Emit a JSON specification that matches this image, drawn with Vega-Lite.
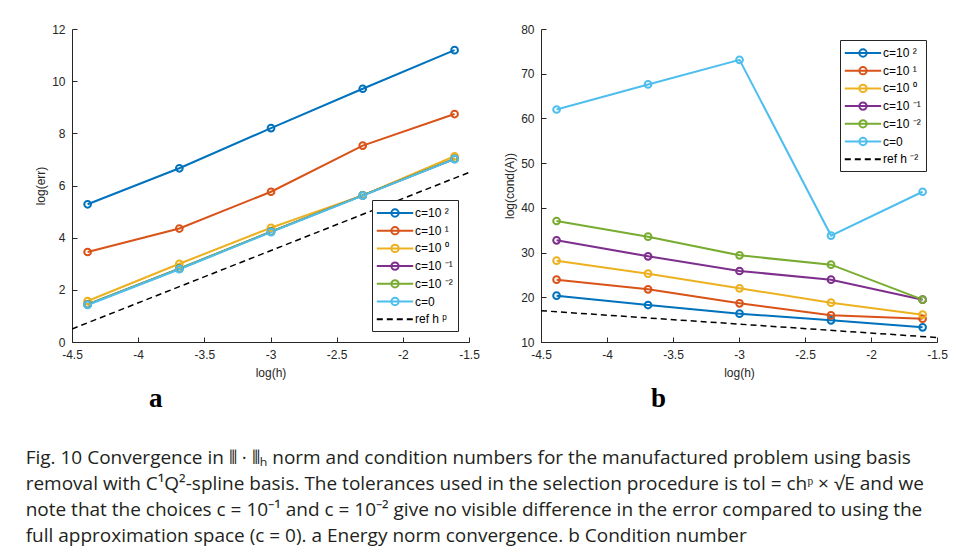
{
  "$schema": "https://vega.github.io/schema/vega-lite/v6.json",
  "padding": {"left": 25, "top": 23, "right": 5, "bottom": 5},
  "background": "white",
  "datasets": {
    "err": [
      {"logh": -4.382, "v": 5.28, "c": "c=10 ²"}, {"logh": -3.689, "v": 6.66, "c": "c=10 ²"}, {"logh": -2.996, "v": 8.20, "c": "c=10 ²"}, {"logh": -2.303, "v": 9.71, "c": "c=10 ²"}, {"logh": -1.609, "v": 11.19, "c": "c=10 ²"},
      {"logh": -4.382, "v": 3.45, "c": "c=10 ¹"}, {"logh": -3.689, "v": 4.35, "c": "c=10 ¹"}, {"logh": -2.996, "v": 5.76, "c": "c=10 ¹"}, {"logh": -2.303, "v": 7.53, "c": "c=10 ¹"}, {"logh": -1.609, "v": 8.74, "c": "c=10 ¹"},
      {"logh": -4.382, "v": 1.57, "c": "c=10 ⁰"}, {"logh": -3.689, "v": 3.00, "c": "c=10 ⁰"}, {"logh": -2.996, "v": 4.38, "c": "c=10 ⁰"}, {"logh": -2.303, "v": 5.62, "c": "c=10 ⁰"}, {"logh": -1.609, "v": 7.12, "c": "c=10 ⁰"},
      {"logh": -4.382, "v": 1.44, "c": "c=10 ⁻¹"}, {"logh": -3.689, "v": 2.81, "c": "c=10 ⁻¹"}, {"logh": -2.996, "v": 4.23, "c": "c=10 ⁻¹"}, {"logh": -2.303, "v": 5.62, "c": "c=10 ⁻¹"}, {"logh": -1.609, "v": 7.02, "c": "c=10 ⁻¹"},
      {"logh": -4.382, "v": 1.44, "c": "c=10 ⁻²"}, {"logh": -3.689, "v": 2.81, "c": "c=10 ⁻²"}, {"logh": -2.996, "v": 4.23, "c": "c=10 ⁻²"}, {"logh": -2.303, "v": 5.62, "c": "c=10 ⁻²"}, {"logh": -1.609, "v": 7.02, "c": "c=10 ⁻²"},
      {"logh": -4.382, "v": 1.42, "c": "c=0"}, {"logh": -3.689, "v": 2.79, "c": "c=0"}, {"logh": -2.996, "v": 4.21, "c": "c=0"}, {"logh": -2.303, "v": 5.61, "c": "c=0"}, {"logh": -1.609, "v": 7.01, "c": "c=0"}
    ],
    "refA": [
      {"logh": -4.5, "v": 0.5, "c": "ref h ᵖ"}, {"logh": -1.5, "v": 6.5, "c": "ref h ᵖ"}
    ],
    "cond": [
      {"logh": -4.382, "v": 20.36, "c": "c=10 ²"}, {"logh": -3.689, "v": 18.27, "c": "c=10 ²"}, {"logh": -2.996, "v": 16.34, "c": "c=10 ²"}, {"logh": -2.303, "v": 14.85, "c": "c=10 ²"}, {"logh": -1.609, "v": 13.28, "c": "c=10 ²"},
      {"logh": -4.382, "v": 23.94, "c": "c=10 ¹"}, {"logh": -3.689, "v": 21.78, "c": "c=10 ¹"}, {"logh": -2.996, "v": 18.65, "c": "c=10 ¹"}, {"logh": -2.303, "v": 15.96, "c": "c=10 ¹"}, {"logh": -1.609, "v": 15.2, "c": "c=10 ¹"},
      {"logh": -4.382, "v": 28.19, "c": "c=10 ⁰"}, {"logh": -3.689, "v": 25.28, "c": "c=10 ⁰"}, {"logh": -2.996, "v": 22.0, "c": "c=10 ⁰"}, {"logh": -2.303, "v": 18.80, "c": "c=10 ⁰"}, {"logh": -1.609, "v": 16.11, "c": "c=10 ⁰"},
      {"logh": -4.382, "v": 32.74, "c": "c=10 ⁻¹"}, {"logh": -3.689, "v": 29.16, "c": "c=10 ⁻¹"}, {"logh": -2.996, "v": 25.88, "c": "c=10 ⁻¹"}, {"logh": -2.303, "v": 23.94, "c": "c=10 ⁻¹"}, {"logh": -1.609, "v": 19.47, "c": "c=10 ⁻¹"},
      {"logh": -4.382, "v": 37.06, "c": "c=10 ⁻²"}, {"logh": -3.689, "v": 33.56, "c": "c=10 ⁻²"}, {"logh": -2.996, "v": 29.38, "c": "c=10 ⁻²"}, {"logh": -2.303, "v": 27.30, "c": "c=10 ⁻²"}, {"logh": -1.609, "v": 19.47, "c": "c=10 ⁻²"},
      {"logh": -4.382, "v": 62.0, "c": "c=0"}, {"logh": -3.689, "v": 67.6, "c": "c=0"}, {"logh": -2.996, "v": 73.1, "c": "c=0"}, {"logh": -2.303, "v": 33.8, "c": "c=0"}, {"logh": -1.609, "v": 43.6, "c": "c=0"}
    ],
    "refB": [
      {"logh": -4.5, "v": 17.0, "c": "ref h ⁻²"}, {"logh": -1.5, "v": 11.0, "c": "ref h ⁻²"}
    ]
  },
  "title": {
    "text": [
      "Fig. 10   Convergence in ⦀ · ⦀ₕ norm and condition numbers for the manufactured problem using basis",
      "removal with C¹Q²-spline basis. The tolerances used in the selection procedure is tol = chᵖ × √E and we",
      "note that the choices c = 10⁻¹ and c = 10⁻² give no visible difference in the error compared to using the",
      "full approximation space (c = 0). a Energy norm convergence. b Condition number"
    ],
    "orient": "bottom",
    "anchor": "start",
    "frame": "bounds",
    "font": "Open Sans",
    "fontSize": 19,
    "fontWeight": "normal",
    "lineHeight": 26,
    "color": "#231f20",
    "offset": 37,
    "dx": -9
  },
  "spacing": 23,
  "resolve": {"scale": {"color": "independent"}, "legend": {"color": "independent"}},
  "hconcat": [
    {
      "width": 397,
      "height": 313,
      "title": {"text": "a", "orient": "bottom", "anchor": "start", "frame": "group", "dx": 77, "offset": 8, "font": "Liberation Serif", "fontSize": 27, "fontWeight": "bold", "color": "#000"},
      "encoding": {
        "x": {"field": "logh", "type": "quantitative", "scale": {"domain": [-4.5, -1.5], "nice": false, "zero": false}, "title": "log(h)",
              "axis": {"values": [-4.5, -4, -3.5, -3, -2.5, -2, -1.5], "labelExpr": "datum.value + ''", "labelFlush": false, "titlePadding": 7}},
        "y": {"field": "v", "type": "quantitative", "scale": {"domain": [0, 12], "nice": false, "zero": false}, "title": "log(err)",
              "axis": {"values": [0, 2, 4, 6, 8, 10, 12], "labelExpr": "datum.value + ''"}}
      },
      "layer": [
        {
          "data": {"name": "refA"},
          "mark": {"type": "line", "strokeWidth": 1.5, "strokeDash": [6, 4], "clip": true},
          "encoding": {
            "color": {"field": "c", "type": "nominal"}
          }
        },
        {
          "data": {"name": "err"},
          "mark": {"type": "line", "strokeWidth": 2},
          "encoding": {
            "color": {
              "field": "c", "type": "nominal",
              "scale": {
                "domain": ["c=10 ²", "c=10 ¹", "c=10 ⁰", "c=10 ⁻¹", "c=10 ⁻²", "c=0", "ref h ᵖ"],
                "range": ["#0072BD", "#D95319", "#EDB120", "#7E2F8E", "#77AC30", "#4DBEEE", "#000000"]
              },
              "legend": {
                "orient": "bottom-right", "offset": 11, "title": null,
                "encode": {"symbols": {"update": {
                  "shape": [{"test": "indexof(datum.value, 'ref') === 0", "value": "M-2.6,0H2.6"}, {"value": "M-2.6,0H2.6M0.52,0A0.52,0.52 0 1,1 -0.52,0A0.52,0.52 0 1,1 0.52,0"}],
                  "strokeDash": [{"test": "indexof(datum.value, 'ref') === 0", "value": [6, 4]}, {"value": []}]
                }}}
              }
            }
          }
        },
        {
          "data": {"name": "err"},
          "mark": {"type": "point", "shape": "circle", "filled": false, "size": 45, "strokeWidth": 2, "opacity": 1},
          "encoding": {
            "color": {"field": "c", "type": "nominal"}
          }
        }
      ]
    },
    {
      "width": 396,
      "height": 313,
      "title": {"text": "b", "orient": "bottom", "anchor": "start", "frame": "group", "dx": 110, "offset": 8, "font": "Liberation Serif", "fontSize": 27, "fontWeight": "bold", "color": "#000"},
      "encoding": {
        "x": {"field": "logh", "type": "quantitative", "scale": {"domain": [-4.5, -1.5], "nice": false, "zero": false}, "title": "log(h)",
              "axis": {"values": [-4.5, -4, -3.5, -3, -2.5, -2, -1.5], "labelExpr": "datum.value + ''", "labelFlush": false, "titlePadding": 7}},
        "y": {"field": "v", "type": "quantitative", "scale": {"domain": [10, 80], "nice": false, "zero": false}, "title": "log(cond(A))",
              "axis": {"values": [10, 20, 30, 40, 50, 60, 70, 80], "labelExpr": "datum.value + ''"}}
      },
      "layer": [
        {
          "data": {"name": "refB"},
          "mark": {"type": "line", "strokeWidth": 1.5, "strokeDash": [6, 4], "clip": true},
          "encoding": {
            "color": {"field": "c", "type": "nominal"}
          }
        },
        {
          "data": {"name": "cond"},
          "mark": {"type": "line", "strokeWidth": 2},
          "encoding": {
            "color": {
              "field": "c", "type": "nominal",
              "scale": {
                "domain": ["c=10 ²", "c=10 ¹", "c=10 ⁰", "c=10 ⁻¹", "c=10 ⁻²", "c=0", "ref h ⁻²"],
                "range": ["#0072BD", "#D95319", "#EDB120", "#7E2F8E", "#77AC30", "#4DBEEE", "#000000"]
              },
              "legend": {
                "orient": "top-right", "offset": 11, "title": null,
                "encode": {"symbols": {"update": {
                  "shape": [{"test": "indexof(datum.value, 'ref') === 0", "value": "M-2.6,0H2.6"}, {"value": "M-2.6,0H2.6M0.52,0A0.52,0.52 0 1,1 -0.52,0A0.52,0.52 0 1,1 0.52,0"}],
                  "strokeDash": [{"test": "indexof(datum.value, 'ref') === 0", "value": [6, 4]}, {"value": []}]
                }}}
              }
            }
          }
        },
        {
          "data": {"name": "cond"},
          "mark": {"type": "point", "shape": "circle", "filled": false, "size": 45, "strokeWidth": 2, "opacity": 1},
          "encoding": {
            "color": {"field": "c", "type": "nominal"}
          }
        }
      ]
    }
  ],
  "config": {
    "view": {"stroke": null},
    "axis": {
      "grid": false,
      "domainColor": "#262626",
      "domainWidth": 1,
      "tickColor": "#262626",
      "tickSize": -5,
      "labelColor": "#262626",
      "titleColor": "#262626",
      "labelFont": "Liberation Sans",
      "titleFont": "Liberation Sans",
      "labelFontSize": 12,
      "titleFontSize": 12,
      "titleFontWeight": "normal",
      "labelPadding": 12,
      "titlePadding": 4
    },
    "legend": {
      "strokeColor": "#262626",
      "fillColor": "white",
      "padding": 5,
      "labelFont": "Liberation Sans",
      "labelFontSize": 12,
      "labelColor": "#000",
      "symbolSize": 196,
      "symbolStrokeWidth": 2,
      "symbolFillColor": "transparent",
      "symbolOffset": 10,
      "labelOffset": 12,
      "rowPadding": 1.7,
      "cornerRadius": 0
    }
  }
}
